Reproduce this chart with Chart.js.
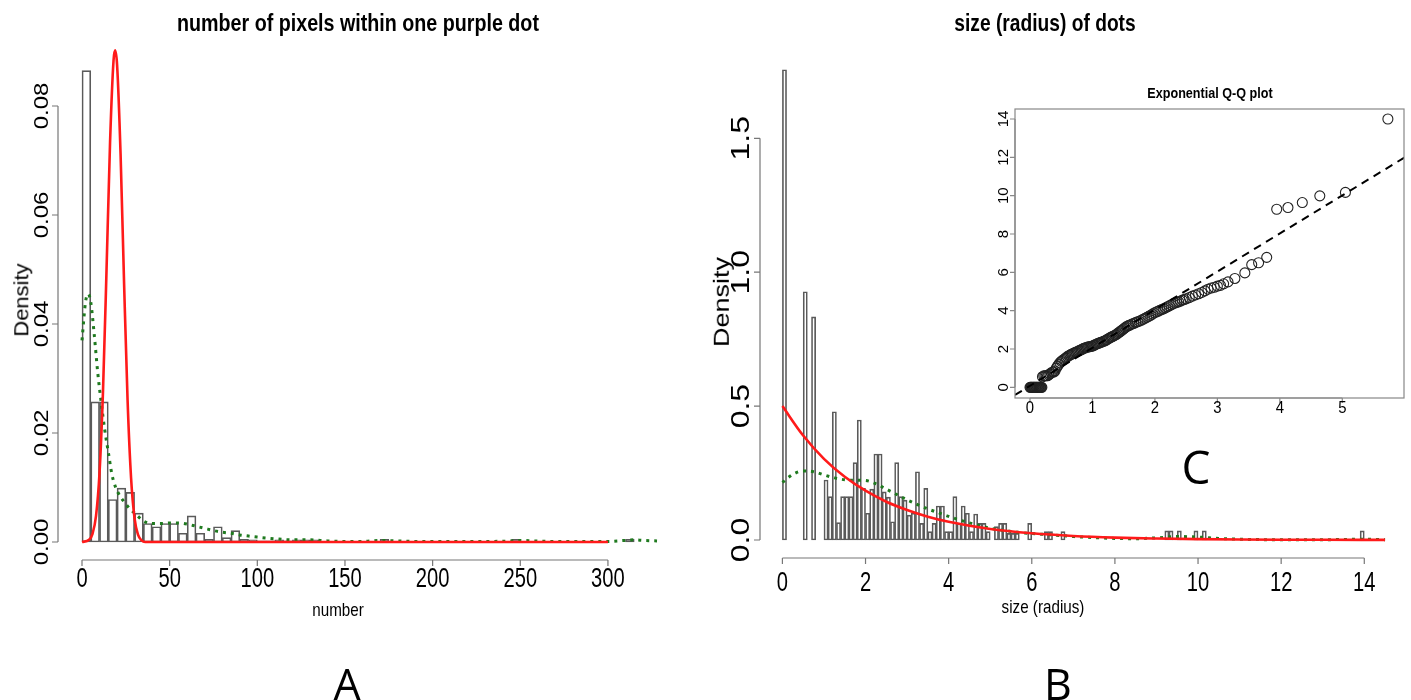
<!DOCTYPE html>
<html>
<head>
<meta charset="utf-8">
<script src="https://cdn.jsdelivr.net/npm/chart.js@4"></script>
<style>
    html, body { margin: 0; padding: 0; background: #fff; }
    #quadro { position: relative; width: 1411px; height: 700px; overflow: hidden; font-family: "Liberation Sans", Arial, sans-serif; }
    #quadro canvas { position: absolute; left: 0; top: 0; }
    .txt { position: absolute; white-space: nowrap; color: #000; line-height: 1; }
    .painel { font-family: "Open Sans", sans-serif; }
</style>
</head>
<body>
<div id="quadro">
    <canvas id="grafico-a" width="1411" height="700"></canvas>
    <canvas id="grafico-b" width="1411" height="700"></canvas>
    <canvas id="grafico-c" width="1411" height="700"></canvas>

    <div class="txt" style="left:358px;top:23px;font-size:24px;font-weight:bold;transform:translate(-50%,-50%) scaleX(0.82)">number of pixels within one purple dot</div>
    <div class="txt" style="left:1045px;top:23px;font-size:24px;font-weight:bold;transform:translate(-50%,-50%) scaleX(0.8)">size (radius) of dots</div>
    <div class="txt" style="left:1210px;top:93px;font-size:14px;font-weight:bold;transform:translate(-50%,-50%) scaleX(0.9)">Exponential Q-Q plot</div>

    <div class="txt" style="left:338px;top:609px;font-size:19px;transform:translate(-50%,-50%) scaleX(0.8)">number</div>
    <div class="txt" style="left:1043px;top:606px;font-size:19px;transform:translate(-50%,-50%) scaleX(0.8)">size (radius)</div>
    <div class="txt" style="left:22px;top:300px;font-size:22px;transform:translate(-50%,-50%) rotate(-90deg) scaleY(0.9)">Density</div>
    <div class="txt" style="left:722px;top:302px;font-size:27px;transform:translate(-50%,-50%) rotate(-90deg) scaleY(0.85)">Density</div>

    <div class="txt painel" style="left:347px;top:683px;font-size:43px;transform:translate(-50%,-50%)">A</div>
    <div class="txt painel" style="left:1058px;top:683px;font-size:43px;transform:translate(-50%,-50%)">B</div>
    <div class="txt painel" style="left:1196px;top:466px;font-size:46px;transform:translate(-50%,-50%)">C</div>
</div>

<script>
// ---------- A: número de pixels dentro de um ponto roxo ----------
const pixelBinWidth = 5;
const pixelBinLeft = [0, 5, 10, 15, 20, 25, 30, 35, 40, 45, 50, 55, 60, 65, 70, 75, 80, 85, 90, 95,
    100, 105, 110, 115, 120, 125, 130, 170, 245, 310];
const pixelDensity = [0.0865, 0.0257, 0.0257, 0.0078, 0.0099, 0.0091, 0.0053, 0.0034, 0.0028, 0.0034,
    0.0034, 0.0016, 0.0048, 0.0016, 0.0005, 0.0028, 0.0008, 0.0021, 0.0005, 0.0004,
    0.0002, 0.0002, 0.0004, 0.0002, 0.0004, 0.0004, 0.0004, 0.0005, 0.0005, 0.0005];
// curva normal ajustada (vermelha)
const pixelNormX = [0, 4, 6, 8, 10, 12, 14, 16, 18, 18.9, 20, 22, 24, 26, 28, 30, 32, 34, 36, 300];
const pixelNormY = [0, 0.0004, 0.0015, 0.0048, 0.0127, 0.0279, 0.050, 0.0733, 0.0884, 0.0902, 0.0876,
    0.0712, 0.0475, 0.026, 0.0117, 0.0043, 0.0013, 0.0003, 0, 0];
// densidade empírica (verde pontilhada)
const pixelKdeX = [0, 2, 3.5, 5, 7, 9, 11, 13, 15, 17, 19, 21, 24, 27, 30, 33, 36, 40, 45, 50, 55, 60,
    65, 70, 75, 80, 85, 90, 95, 100, 110, 120, 130, 140, 150, 160, 170, 180, 190, 200, 230, 245,
    250, 258, 270, 300, 310, 315, 320, 328];
const pixelKdeY = [0.037, 0.044, 0.0455, 0.044, 0.038, 0.031, 0.0255, 0.0205, 0.0165, 0.0125, 0.0102,
    0.0088, 0.0074, 0.0062, 0.0053, 0.0044, 0.0037, 0.0034, 0.0034, 0.0035, 0.0035, 0.0033, 0.0029,
    0.0025, 0.0021, 0.0018, 0.0016, 0.0013, 0.0011, 0.0009, 0.0006, 0.0004, 0.0004, 0.0002, 0.0001,
    0.0001, 0.0003, 0.0002, 0.0001, 0.0001, 0.0001, 0.0002, 0.0003, 0.0002, 0.0001, 0.0001, 0.0003,
    0.0004, 0.0003, 0.0002];
const pixelXTicks = [0, 50, 100, 150, 200, 250, 300];
const pixelYTicks = [0, 0.02, 0.04, 0.06, 0.08];
const pixelYLabels = ["0.00", "0.02", "0.04", "0.06", "0.08"];

// ---------- B: tamanho (raio) dos pontos ----------
const sizeBinWidth = 0.1;
const sizeBinLeft = [0, 0.5, 0.7, 1.0, 1.1, 1.2, 1.3, 1.4, 1.5, 1.6, 1.7, 1.8, 1.9, 2.0, 2.1, 2.2, 2.3,
    2.4, 2.5, 2.6, 2.7, 2.8, 2.9, 3.0, 3.1, 3.2, 3.3, 3.4, 3.5, 3.6, 3.7, 3.8, 3.9, 4.0, 4.1, 4.2, 4.3,
    4.4, 4.5, 4.6, 4.7, 4.8, 4.9, 5.1, 5.2, 5.3, 5.4, 5.5, 5.6, 5.9, 6.3, 6.4, 6.7, 9.2, 9.3, 9.5,
    9.9, 10.1, 13.9];
const sizeDensity = [1.756, 0.927, 0.833, 0.224, 0.162, 0.479, 0.065, 0.162, 0.162, 0.162, 0.289, 0.448,
    0.193, 0.10, 0.19, 0.321, 0.321, 0.18, 0.16, 0.068, 0.289, 0.162, 0.149, 0.093, 0.10, 0.255, 0.062,
    0.193, 0.031, 0.062, 0.127, 0.127, 0.031, 0.031, 0.162, 0.062, 0.127, 0.10, 0.031, 0.097, 0.062,
    0.062, 0.031, 0.05, 0.062, 0.062, 0.025, 0.025, 0.025, 0.062, 0.031, 0.031, 0.031, 0.034, 0.034,
    0.034, 0.034, 0.034, 0.034];
// exponencial ajustada (vermelha)
const sizeExpX = [0, 0.5, 1, 1.5, 2, 2.5, 3, 3.5, 4, 5, 6, 7, 8, 9, 10, 11, 12, 13, 14, 14.5];
const sizeExpY = [0.5, 0.39, 0.303, 0.236, 0.184, 0.143, 0.112, 0.087, 0.068, 0.041, 0.025, 0.015,
    0.009, 0.0056, 0.0034, 0.002, 0.0012, 0.0008, 0.0005, 0.0004];
// densidade empírica (verde pontilhada)
const sizeKdeX = [0, 0.25, 0.5, 0.75, 1, 1.25, 1.5, 1.75, 2, 2.25, 2.5, 2.75, 3, 3.25, 3.5, 3.75, 4,
    4.5, 5, 5.5, 6, 6.5, 7, 7.5, 8, 8.5, 9, 9.5, 10, 10.5, 11, 12, 13, 13.5, 14, 14.5];
const sizeKdeY = [0.215, 0.245, 0.258, 0.255, 0.243, 0.232, 0.225, 0.223, 0.222, 0.21, 0.19, 0.17, 0.15,
    0.132, 0.116, 0.102, 0.088, 0.064, 0.044, 0.032, 0.024, 0.019, 0.013, 0.009, 0.006, 0.005, 0.008,
    0.013, 0.011, 0.006, 0.003, 0.001, 0.001, 0.002, 0.003, 0.001];
const sizeXTicks = [0, 2, 4, 6, 8, 10, 12, 14];
const sizeYTicks = [0, 0.5, 1.0, 1.5];
const sizeYLabels = ["0.0", "0.5", "1.0", "1.5"];

// ---------- C: Q-Q plot exponencial ----------
const qqTheo = [0, 0.01, 0.02, 0.03, 0.04, 0.05, 0.06, 0.07, 0.08, 0.09, 0.10, 0.11, 0.12, 0.13, 0.14,
    0.15, 0.16, 0.17, 0.18, 0.19, 0.20, 0.22, 0.24, 0.26, 0.28, 0.30, 0.32, 0.34, 0.36, 0.38, 0.40,
    0.42, 0.44, 0.46, 0.48, 0.50, 0.52, 0.54, 0.56, 0.58, 0.60, 0.62, 0.64, 0.66, 0.68, 0.70, 0.72,
    0.74, 0.76, 0.78, 0.80, 0.82, 0.84, 0.86, 0.88, 0.90, 0.92, 0.94, 0.96, 0.98, 1.00, 1.02, 1.04,
    1.06, 1.08, 1.10, 1.12, 1.14, 1.16, 1.18, 1.20, 1.22, 1.24, 1.26, 1.28, 1.30, 1.32, 1.34, 1.36,
    1.38, 1.40, 1.42, 1.44, 1.46, 1.48, 1.50, 1.52, 1.54, 1.56, 1.58, 1.60, 1.63, 1.66, 1.69, 1.72,
    1.75, 1.78, 1.81, 1.84, 1.87, 1.90, 1.93, 1.96, 1.99, 2.02, 2.05, 2.08, 2.11, 2.14, 2.17, 2.20,
    2.23, 2.26, 2.29, 2.32, 2.35, 2.38, 2.41, 2.44, 2.47, 2.50, 2.55, 2.60, 2.65, 2.70, 2.75, 2.80,
    2.85, 2.90, 2.95, 3.00, 3.05, 3.10, 3.17, 3.28, 3.44, 3.55, 3.66, 3.79, 3.95, 4.13, 4.36, 4.64,
    5.05, 5.73];
const qqSample = [0, 0, 0, 0, 0, 0, 0, 0, 0, 0, 0, 0, 0, 0, 0, 0, 0, 0, 0, 0, 0.55, 0.6, 0.6, 0.6, 0.6,
    0.65, 0.7, 0.75, 0.8, 0.8, 0.85, 1.0, 1.1, 1.2, 1.28, 1.35, 1.4, 1.45, 1.5, 1.55, 1.6, 1.65, 1.68,
    1.72, 1.75, 1.78, 1.82, 1.84, 1.87, 1.9, 1.93, 1.96, 2.0, 2.03, 2.05, 2.08, 2.1, 2.11, 2.12, 2.14,
    2.15, 2.18, 2.22, 2.25, 2.28, 2.3, 2.33, 2.35, 2.38, 2.4, 2.43, 2.46, 2.5, 2.55, 2.58, 2.62, 2.65,
    2.68, 2.72, 2.75, 2.8, 2.85, 2.9, 2.95, 3.0, 3.05, 3.1, 3.15, 3.2, 3.22, 3.25, 3.3, 3.33, 3.38,
    3.42, 3.45, 3.5, 3.55, 3.6, 3.65, 3.7, 3.76, 3.82, 3.88, 3.93, 3.97, 4.02, 4.06, 4.1, 4.15, 4.2,
    4.25, 4.3, 4.35, 4.4, 4.43, 4.46, 4.5, 4.55, 4.58, 4.62, 4.68, 4.76, 4.82, 4.88, 4.95, 5.03, 5.12,
    5.18, 5.22, 5.28, 5.32, 5.4, 5.5, 5.68, 5.97, 6.4, 6.5, 6.78, 9.29, 9.38, 9.64, 9.99, 10.17, 14.0];
const qqLineX = [-0.24, 6.0];
const qqLineY = [-0.4, 12.0];
const qqXTicks = [0, 1, 2, 3, 4, 5];
const qqYTicks = [0, 2, 4, 6, 8, 10, 12, 14];

// escreve texto (opcionalmente girado) com a fonte comprimida na horizontal
function escreverTexto(ctx, texto, x, y, fonte, girado) {
    ctx.save();
    ctx.translate(x, y);
    if (girado) {
        ctx.rotate(-Math.PI / 2);
        ctx.scale(1, fonte.sx);
    } else {
        ctx.scale(fonte.sx, 1);
    }
    ctx.font = fonte.size + 'px "Liberation Sans", Arial, sans-serif';
    ctx.textAlign = "center";
    ctx.textBaseline = "middle";
    ctx.fillText(texto, 0, 0);
    ctx.restore();
}

// eixos no estilo do R: linha só entre o primeiro e o último tick
const eixosR = {
    id: "eixosR",
    afterDatasetsDraw(chart, args, o) {
        const ctx = chart.ctx;
        const area = chart.chartArea;
        const xs = chart.scales.x;
        const ys = chart.scales.y;
        ctx.save();
        ctx.strokeStyle = o.color;
        ctx.lineWidth = o.lineWidth;
        ctx.fillStyle = "#000";
        if (o.box) {
            ctx.strokeRect(area.left, area.top, area.right - area.left, area.bottom - area.top);
        }
        ctx.beginPath();
        const bx = area.bottom;
        ctx.moveTo(xs.getPixelForValue(o.xTicks[0]), bx);
        ctx.lineTo(xs.getPixelForValue(o.xTicks[o.xTicks.length - 1]), bx);
        o.xTicks.forEach(v => {
            const p = xs.getPixelForValue(v);
            ctx.moveTo(p, bx);
            ctx.lineTo(p, bx + o.tickLen);
        });
        const lx = area.left;
        ctx.moveTo(lx, ys.getPixelForValue(o.yTicks[0]));
        ctx.lineTo(lx, ys.getPixelForValue(o.yTicks[o.yTicks.length - 1]));
        o.yTicks.forEach(v => {
            const p = ys.getPixelForValue(v);
            ctx.moveTo(lx, p);
            ctx.lineTo(lx - o.tickLen, p);
        });
        ctx.stroke();
        o.xTicks.forEach((v, i) => {
            escreverTexto(ctx, o.xLabels[i], xs.getPixelForValue(v), o.xLabelY, o.xFont, false);
        });
        o.yTicks.forEach((v, i) => {
            escreverTexto(ctx, o.yLabels[i], o.yLabelX, ys.getPixelForValue(v), o.yFont, true);
        });
        ctx.restore();
    }
};

function pontos(xs, ys) {
    return xs.map((x, i) => ({ x: x, y: ys[i] }));
}

function barrasHist(lefts, dens, largura) {
    return lefts.map((l, i) => ({ x: l + largura / 2, y: dens[i] }));
}

const opcoesBase = {
    responsive: false,
    animation: false,
    devicePixelRatio: 1,
    events: [],
    plugins: { legend: { display: false }, tooltip: { enabled: false } }
};

// Gráfico A
new Chart(document.getElementById("grafico-a").getContext("2d"), {
    type: "bar",
    data: {
        datasets: [
            {
                type: "line",
                data: pontos(pixelNormX, pixelNormY),
                borderColor: "#ff1a1a",
                borderWidth: 2.6,
                pointRadius: 0,
                cubicInterpolationMode: "monotone",
                order: 1
            },
            {
                type: "line",
                data: pontos(pixelKdeX, pixelKdeY),
                borderColor: "#1f7a1f",
                borderWidth: 3,
                borderDash: [3, 5],
                pointRadius: 0,
                cubicInterpolationMode: "monotone",
                order: 2
            },
            {
                data: barrasHist(pixelBinLeft, pixelDensity, pixelBinWidth),
                backgroundColor: "rgba(255,255,255,0)",
                borderColor: "#5a5a5a",
                borderWidth: 1,
                borderSkipped: false,
                barPercentage: 1,
                categoryPercentage: 1,
                order: 3
            }
        ]
    },
    options: {
        ...opcoesBase,
        layout: { padding: { left: 58, right: 741, top: 31, bottom: 140 } },
        scales: {
            x: { type: "linear", min: -13.69, max: 335.4, offset: false, display: false },
            y: { type: "linear", min: -0.0033, max: 0.09376, display: false }
        },
        plugins: {
            ...opcoesBase.plugins,
            eixosR: {
                color: "#777", lineWidth: 1.2, tickLen: 6, box: false,
                xTicks: pixelXTicks, xLabels: pixelXTicks.map(String), xLabelY: 579,
                xFont: { size: 28, sx: 0.72 },
                yTicks: pixelYTicks, yLabels: pixelYLabels, yLabelX: 42,
                yFont: { size: 24, sx: 0.85 }
            }
        }
    },
    plugins: [eixosR]
});

// Gráfico B
new Chart(document.getElementById("grafico-b").getContext("2d"), {
    type: "bar",
    data: {
        datasets: [
            {
                type: "line",
                data: pontos(sizeExpX, sizeExpY),
                borderColor: "#ff1a1a",
                borderWidth: 2.6,
                pointRadius: 0,
                cubicInterpolationMode: "monotone",
                order: 1
            },
            {
                type: "line",
                data: pontos(sizeKdeX, sizeKdeY),
                borderColor: "#1f7a1f",
                borderWidth: 3,
                borderDash: [3, 5],
                pointRadius: 0,
                cubicInterpolationMode: "monotone",
                order: 2
            },
            {
                data: barrasHist(sizeBinLeft, sizeDensity, sizeBinWidth),
                backgroundColor: "rgba(255,255,255,0)",
                borderColor: "#5a5a5a",
                borderWidth: 1,
                borderSkipped: false,
                barPercentage: 1,
                categoryPercentage: 1,
                order: 3
            }
        ]
    },
    options: {
        ...opcoesBase,
        layout: { padding: { left: 760, right: 16, top: 50, bottom: 142 } },
        scales: {
            x: { type: "linear", min: -0.539, max: 14.739, offset: false, display: false },
            y: { type: "linear", min: -0.0672, max: 1.8297, display: false }
        },
        plugins: {
            ...opcoesBase.plugins,
            eixosR: {
                color: "#777", lineWidth: 1.2, tickLen: 6, box: false,
                xTicks: sizeXTicks, xLabels: sizeXTicks.map(String), xLabelY: 583,
                xFont: { size: 28, sx: 0.72 },
                yTicks: sizeYTicks, yLabels: sizeYLabels, yLabelX: 742,
                yFont: { size: 32, sx: 0.83 }
            }
        }
    },
    plugins: [eixosR]
});

// Gráfico C (inserido)
new Chart(document.getElementById("grafico-c").getContext("2d"), {
    type: "scatter",
    data: {
        datasets: [
            {
                type: "line",
                data: pontos(qqLineX, qqLineY),
                borderColor: "#000",
                borderWidth: 2,
                borderDash: [8, 6],
                pointRadius: 0,
                order: 1
            },
            {
                data: pontos(qqTheo, qqSample),
                pointStyle: "circle",
                pointRadius: 5,
                backgroundColor: "rgba(255,255,255,0)",
                borderColor: "#222",
                borderWidth: 1.1,
                order: 2
            }
        ]
    },
    options: {
        ...opcoesBase,
        layout: { padding: { left: 1015, right: 7, top: 109, bottom: 302 } },
        scales: {
            x: { type: "linear", min: -0.24, max: 5.988, display: false },
            y: { type: "linear", min: -0.558, max: 14.522, display: false }
        },
        plugins: {
            ...opcoesBase.plugins,
            eixosR: {
                color: "#888", lineWidth: 1.2, tickLen: 5, box: true,
                xTicks: qqXTicks, xLabels: qqXTicks.map(String), xLabelY: 409,
                xFont: { size: 16, sx: 0.93 },
                yTicks: qqYTicks, yLabels: qqYTicks.map(String), yLabelX: 1004,
                yFont: { size: 15, sx: 1 }
            }
        }
    },
    plugins: [eixosR]
});
</script>
</body>
</html>
